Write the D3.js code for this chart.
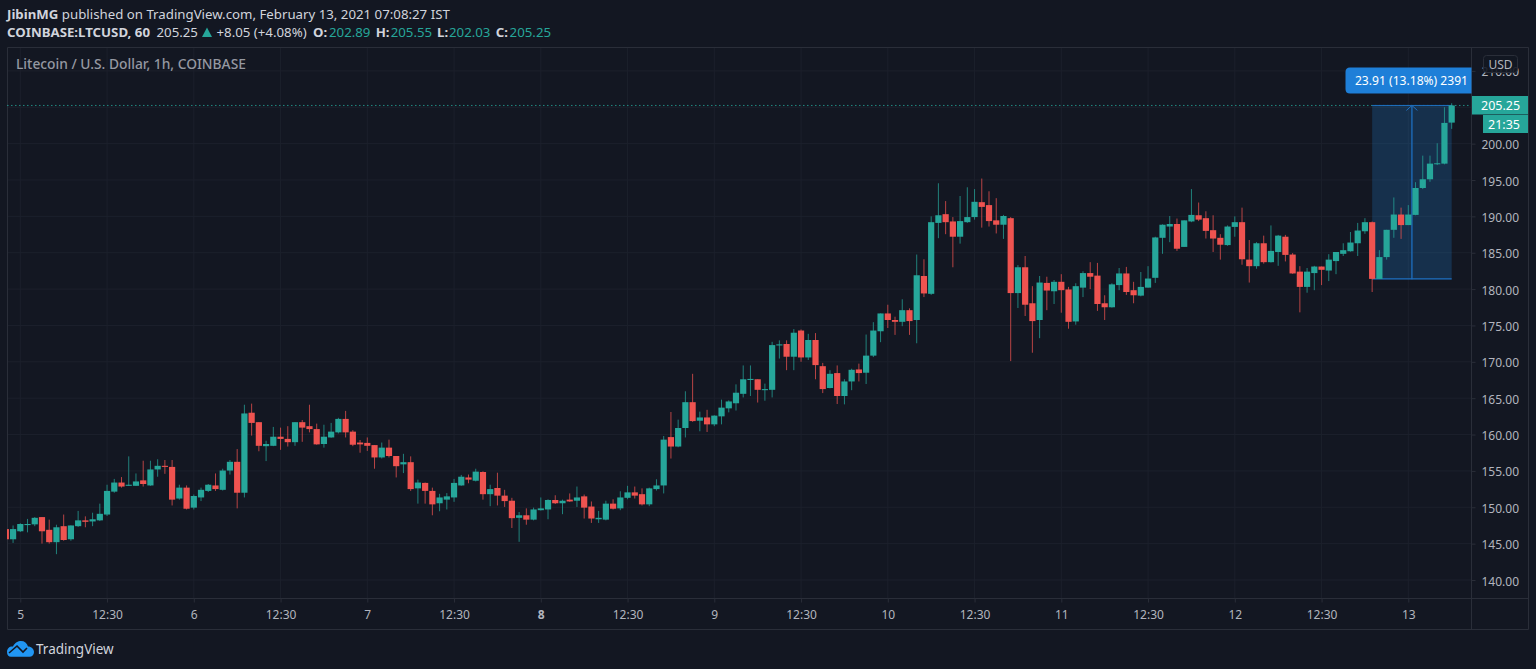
<!DOCTYPE html>
<html>
<head>
<meta charset="utf-8">
<title>LTCUSD</title>
<script src="https://cdn.jsdelivr.net/npm/d3@7"></script>
<style>
  html, body { margin: 0; background: #131722; overflow: hidden; }
  text { font-family: "Noto Sans", "Open Sans", sans-serif; }
</style>
</head>
<body>
<div id="chart"></div>
<script>
// hourly candles
const opens = [
  147.0,145.6,146.7,147.55,147.65,148.65,146.9,145.2,147.4,145.6,147.4,148.2,
  148.05,148.2,149,152.15,153.4,152.95,152.95,153.7,153,155.2,155.7,155.55,
  151.2,152.7,149.95,151.35,152.25,153,152.4,155.05,156.25,152,163,161.7,
  158.4,158.45,159.7,159.4,158.95,161.7,161.15,160.75,158.7,159.6,160.3,162.15,
  160.4,158.9,158.85,158.55,156.85,158.2,157.05,155.9,156.2,152.6,153.35,152.25,
  150.55,151.05,151.35,153,154.1,153.65,154.85,151.8,152.65,151.6,150.9,148.55,
  148.9,148.3,149.6,149.7,151,150.55,151.05,150.9,151.5,150.1,148.35,148.3,
  150.5,149.85,151.3,152.05,151.8,150.4,152.5,153,159.65,158.35,160.9,164.45,
  161.9,162.35,161.4,162.5,163.6,164.3,165.6,167.5,167.6,166.1,166.15,172.25,
  172.45,170.7,174.3,170.6,173,169.4,166.4,168.45,165.3,167.3,168.95,168.5,
  170.85,174.2,176.65,175.75,175.5,177.1,175.75,181.8,179.35,189.1,190.3,189.3,
  187.2,189.2,189.9,191.95,191.55,189.45,188.85,189.75,179.45,183,178.05,175.75,
  180.85,179.7,181,179.95,175.55,180.2,182.2,181.85,178.05,177.5,180.55,182.15,
  179.85,179.1,180.2,181.55,187.05,188.6,188.95,185.8,189.3,190.15,189.75,188.1,
  187.05,186.05,188.55,189.2,184.05,183.15,186.3,183.7,185.1,187.2,184.75,182.4,
  180.3,182.2,183.1,182.55,183.85,184.85,185.2,186.3,187.95,189.2,181.4,184.4,
  188.15,190.25,188.8,190.2,193.9,195.1,197.2,197.25,202.89
];
const highs = [
  147,147.5,147.8,148.4,148.65,148.65,148.3,147.6,149,147.5,149.5,148.75,
  149.25,150.5,153.1,153.9,154.15,157,154.65,156.4,156.4,156.6,156.5,156.5,
  153.1,153,151.75,152.7,153.2,154.65,155.3,156.5,158,164.1,164.25,161.7,
  159.15,161.05,160.95,161.15,161.7,162,164.1,161.5,161.35,161.6,162.3,163.25,
  160.6,159.25,159.6,158.55,158.9,159.3,157.05,157.35,157,153.8,153.4,152.7,
  151.85,151.95,153.9,154.45,154.5,155.3,154.95,153.1,154.75,152.4,151.3,149.35,
  149.85,149.95,151.35,151.1,151.65,151.05,151.9,152.85,151.75,150.8,149.5,150.9,
  151.1,152.2,152.95,152.85,152.6,152.7,153.85,159.8,163.1,162.05,165.95,168.35,
  163.15,163.4,162.65,164.8,164.7,166.9,169.5,169.5,167.6,167,172.75,172.95,
  172.95,174.5,174.45,173.85,173.95,169.85,168.85,169.5,167.6,169.05,169.75,173.75,
  175.45,176.65,177.85,176.2,178.6,177.35,184.75,184.1,190,194.55,192.1,189.9,
  192.8,194,193.75,195.2,193.45,192.5,190.2,189.9,183.3,184.55,180.4,181.8,
  181.7,181.25,182.05,180.3,180.8,182.45,183.7,183.6,179.15,180.8,182.9,183.05,
  181,182.35,183.15,187.2,188.9,190.05,189.7,189.45,193.75,191.9,190.7,190.15,
  187.55,188.75,190,191.2,186.75,186.45,187.35,188.75,187.45,187.45,184.95,183.15,
  182.9,183.2,183.1,184.8,185.1,186.3,187.85,189.1,189.75,189.3,185.35,188.15,
  192.6,191.2,191.55,194.7,198.35,198.35,200.05,205,205.55
];
const lows = [
  145.6,145.1,146.6,146.55,147.4,145,145,143.55,145.4,145.4,147.3,147.25,
  147.4,148.1,148.8,152,152.7,152.95,152.95,152.85,152.95,154.2,154.6,150.25,
  151.05,149.7,149.7,150.85,152.1,152.25,152.3,154.5,149.85,151.35,159.85,157.7,
  156.35,158.4,157.9,158.35,158.45,159,160.3,158.6,158.2,159.55,160.15,159.6,
  158.4,157.5,157.75,155.3,156.7,156.85,154.1,154.7,152.25,150.5,150.5,148.9,
  149.45,149.7,150.75,152.95,153.3,153.55,151.05,150.15,150.25,150.05,147.15,145.25,
  147.6,148.2,149.55,148.35,150.45,149.05,150.75,150.05,148.45,147.85,147.85,148.2,
  149.7,149.6,151.1,151.2,150.25,150.15,152.3,151.9,156.7,158.25,159.6,161.75,
  160.45,160.35,161.15,161.4,163.05,163.3,165.1,165.3,164.4,164.65,165.1,170.45,
  168.85,168.85,170,170.25,167.6,165.7,166.35,164.2,164.15,166.1,167.3,166.95,
  170.65,172.7,174.65,173.7,174.9,173.7,172.55,178.9,179.2,187,187.55,183,
  186.25,189.1,189.55,188.45,188.6,187.65,186.9,170.1,177.4,176.3,171.25,173.25,
  177.1,177.95,176.75,174.55,175.1,178.9,180,177,175.75,177.45,179.85,179.2,
  178.05,179,180.2,180.85,184.85,186.45,185.25,185.8,189.2,189.35,186.95,185.1,
  184.05,185.95,187.2,183.35,180.9,182.8,183.5,183.65,183.2,183.8,182.1,176.8,
  179.5,179.85,180.55,181.1,182.05,184.55,185.15,184.55,187.6,179.6,181.4,184.05,
  187.05,186.9,188.8,190.15,193.75,194.75,197.05,197.15,202.03
];
const closes = [
  145.6,147,147.7,147.7,148.55,146.7,145.2,147.25,145.5,147.5,148.2,148,
  148.35,149.1,152.25,153.4,152.85,153.1,153.55,153.2,155.2,155.7,155.55,151.05,
  152.7,149.8,151.55,152.4,153.1,152.5,155.05,156.25,152,162.9,161.6,158.45,
  158.7,159.7,159.4,158.95,161.7,160.95,160.75,158.65,159.7,160.4,162.15,160.3,
  158.6,158.65,158.45,156.85,158.2,157.05,155.65,156.2,152.5,153.4,152.25,150.4,
  151.35,151.5,153.35,154.2,153.8,154.9,151.8,152.5,151.6,150.85,148.5,148.9,
  148.3,149.7,149.85,151,150.55,150.9,150.8,151.35,149.95,148.45,148.55,150.5,
  149.8,151.35,152.05,151.6,150.4,152.6,153,159.3,158.35,160.9,164.45,161.85,
  162.35,161.4,162.6,163.7,164.55,165.75,167.6,167.65,166.15,166.25,172.3,172.4,
  170.7,174,170.6,173,169.55,166.25,168.35,165.3,167.3,168.9,168.45,170.85,
  174.3,176.65,175.75,175.5,177.1,175.6,181.9,179.4,189.2,190.15,189.2,187.2,
  189.35,189.9,192,191.3,189.35,188.85,190.05,179.45,183,177.85,175.6,180.9,
  179.8,181,179.85,175.5,180.4,182.2,181.7,177.95,177.5,180.65,182.15,179.6,
  179.15,180.3,181.45,187.1,188.85,188.95,185.55,189.45,190.2,189.55,188,186.95,
  186.1,188.6,189.2,184.1,183.15,186.3,183.7,185.25,187.35,184.7,182.15,180.3,
  182.4,183.1,182.65,184.05,185.1,185.35,186.4,188.05,189.2,181.4,184.4,188.15,
  190.25,188.8,190.25,193.9,195.1,197.25,197.3,202.85,205.25
];

const timeLabels = ["5","12:30","6","12:30","7","12:30","8","12:30","9","12:30","10","12:30","11","12:30","12","12:30","13"];
const timeBars = [2,14,26,38,50,62,74,86,98,110,122,134,146,158,170,182,194];
const priceTicks = [210,205,200,195,190,185,180,175,170,165,160,155,150,145,140];

const lastPrice = 205.25;
const rangeFrom = 181.34;   // bottom of the price range tool
const rangeStartBar = 189;
const rangeEndBar = 200;
const rangeMidBar = 194.5;

const teal = "#26a69a";
const red = "#ef5350";
const gridColor = "#1c202c";
const frameColor = "#2a2e39";
const axisText = "#b2b5be";
const toolBlue = "#1e6fc0";

const svgWidth = 1536;
const svgHeight = 669;

const plot = { left: 7, right: 1471, top: 47, bottom: 598, outerRight: 1528, outerBottom: 629 };

const x = d3.scaleLinear().domain([2, 194]).range([20.3, 1408.3]);
const y = d3.scaleLinear().domain([140, 210]).range([580, 70.9]);

const svg = d3.select("#chart")
  .append("svg")
  .attr("width", svgWidth)
  .attr("height", svgHeight)
  .style("display", "block");

svg.append("defs").append("clipPath").attr("id", "plotClip")
  .append("rect")
  .attr("x", plot.left)
  .attr("y", plot.top)
  .attr("width", plot.right - plot.left)
  .attr("height", plot.bottom - plot.top);

// header lines
const headerColor = "#d1d4dc";
const line1 = svg.append("text").attr("x", 7).attr("y", 18.5).attr("font-size", 13.25).attr("fill", headerColor);
line1.append("tspan").attr("font-weight", 700).text("JibinMG");
line1.append("tspan").text(" published on TradingView.com, February 13, 2021 07:08:27 IST");

const line2Parts = [
  { t: "COINBASE:LTCUSD, 60", x: 7, bold: true, c: headerColor },
  { t: "205.25", x: 156.5, c: headerColor },
  { t: "+8.05 (+4.08%)", x: 216.5, c: headerColor },
  { t: "O:", x: 313, bold: true, c: headerColor },
  { t: "202.89", x: 329, c: teal },
  { t: "H:", x: 375.7, bold: true, c: headerColor },
  { t: "205.55", x: 390.7, c: teal },
  { t: "L:", x: 437, bold: true, c: headerColor },
  { t: "202.03", x: 449, c: teal },
  { t: "C:", x: 495.7, bold: true, c: headerColor },
  { t: "205.25", x: 509.6, c: teal }
];
svg.selectAll(".line2").data(line2Parts).enter().append("text")
  .attr("class", "line2")
  .attr("x", d => d.x)
  .attr("y", 37)
  .attr("font-size", 13.25)
  .attr("font-weight", d => d.bold ? 700 : 400)
  .attr("fill", d => d.c)
  .text(d => d.t);
svg.append("path").attr("d", "M202 37 L207 27.5 L212 37 Z").attr("fill", teal);

// grid
const gridGroup = svg.append("g");
gridGroup.selectAll(".vgrid").data(timeBars).enter().append("line")
  .attr("x1", d => x(d)).attr("x2", d => x(d))
  .attr("y1", plot.top).attr("y2", plot.bottom)
  .attr("stroke", gridColor);
gridGroup.selectAll(".hgrid").data(priceTicks).enter().append("line")
  .attr("x1", plot.left).attr("x2", plot.right)
  .attr("y1", d => y(d)).attr("y2", d => y(d))
  .attr("stroke", gridColor);

// frame
svg.append("path")
  .attr("d", `M${plot.left + 0.5} ${plot.top + 0.5} H${plot.outerRight + 0.5} V${plot.outerBottom + 0.5} H${plot.left + 0.5} Z
    M${plot.left} ${plot.bottom + 0.5} H${plot.outerRight}
    M${plot.right + 0.5} ${plot.top} V${plot.outerBottom}`)
  .attr("fill", "none")
  .attr("stroke", frameColor);

svg.append("text")
  .attr("x", 16).attr("y", 69)
  .attr("font-size", 13.8)
  .attr("font-weight", 500)
  .attr("fill", "#9598a1")
  .text("Litecoin / U.S. Dollar, 1h, COINBASE");

// axes, the 205 label sits behind the last price tag so it is left out
const yAxis = svg.append("g")
  .attr("transform", `translate(${plot.right + 0.5},0)`)
  .call(d3.axisRight(y).tickValues(priceTicks).tickSize(4).tickPadding(6)
    .tickFormat(d => d === 205 ? "" : d3.format(".2f")(d)));
const xAxis = svg.append("g")
  .attr("transform", `translate(0,${plot.bottom + 0.5})`)
  .call(d3.axisBottom(x).tickValues(timeBars).tickSize(4).tickPadding(8).tickFormat((d, i) => timeLabels[i]));
[yAxis, xAxis].forEach(a => {
  a.select(".domain").remove();
  a.selectAll("line").attr("stroke", frameColor);
  a.selectAll("text").attr("fill", axisText).attr("font-size", 12).style("font-family", '"Noto Sans", sans-serif');
});
yAxis.selectAll("text").attr("dy", "0.42em");
xAxis.selectAll("text").filter((d, i) => timeLabels[i] === "8").attr("font-weight", 700);

const plotGroup = svg.append("g").attr("clip-path", "url(#plotClip)");

// last price dotted line
plotGroup.append("line")
  .attr("x1", plot.left).attr("x2", plot.right)
  .attr("y1", y(lastPrice)).attr("y2", y(lastPrice))
  .attr("stroke", teal)
  .attr("stroke-opacity", 0.8)
  .attr("stroke-dasharray", "1.5 2.5");

// price range tool, goes under the candles
plotGroup.append("rect")
  .attr("x", x(rangeStartBar))
  .attr("y", y(lastPrice))
  .attr("width", x(rangeEndBar) - x(rangeStartBar))
  .attr("height", y(rangeFrom) - y(lastPrice))
  .attr("fill", "#2196f3")
  .attr("fill-opacity", 0.2);
plotGroup.append("line")
  .attr("x1", x(rangeStartBar)).attr("x2", x(rangeEndBar))
  .attr("y1", y(lastPrice)).attr("y2", y(lastPrice))
  .attr("stroke", toolBlue);
plotGroup.append("line")
  .attr("x1", x(rangeStartBar)).attr("x2", x(rangeEndBar))
  .attr("y1", y(rangeFrom) - 0.5).attr("y2", y(rangeFrom) - 0.5)
  .attr("stroke", toolBlue)
  .attr("stroke-width", 1.3);
plotGroup.append("line")
  .attr("x1", x(rangeMidBar)).attr("x2", x(rangeMidBar))
  .attr("y1", y(rangeFrom)).attr("y2", y(lastPrice))
  .attr("stroke", toolBlue)
  .attr("stroke-width", 1.3);
plotGroup.append("path")
  .attr("d", `M${x(rangeMidBar) - 5.5} ${y(lastPrice) + 5} L${x(rangeMidBar)} ${y(lastPrice)} L${x(rangeMidBar) + 5.5} ${y(lastPrice) + 5}`)
  .attr("fill", "none")
  .attr("stroke", toolBlue);

// candles
const candles = closes.map((c, i) => ({ i, o: opens[i], h: highs[i], l: lows[i], c }));
const candleGroup = plotGroup.selectAll(".candle").data(candles).enter().append("g");
candleGroup.append("line")
  .attr("x1", d => x(d.i)).attr("x2", d => x(d.i))
  .attr("y1", d => y(d.h)).attr("y2", d => y(d.l))
  .attr("stroke", d => d.c >= d.o ? teal : red)
  .attr("stroke-opacity", 0.75);
candleGroup.append("rect")
  .attr("x", d => x(d.i) - 3.1)
  .attr("width", 6.2)
  .attr("y", d => y(Math.max(d.o, d.c)))
  .attr("height", d => Math.max(1, Math.abs(y(d.o) - y(d.c))))
  .attr("fill", d => d.c >= d.o ? teal : red);

// range tool label
svg.append("path")
  .attr("d", "M1350 67.5 H1471.5 V93.5 H1350 Q1345.5 93.5 1345.5 89 V72 Q1345.5 67.5 1350 67.5 Z")
  .attr("fill", "#1e7fd8");
svg.append("text")
  .attr("x", 1411.5).attr("y", 85)
  .attr("text-anchor", "middle")
  .attr("font-size", 12.1)
  .attr("fill", "#ffffff")
  .text("23.91 (13.18%) 2391");

// USD button
svg.append("rect")
  .attr("x", 1483.5).attr("y", 55.5)
  .attr("width", 34).attr("height", 17).attr("rx", 3)
  .attr("fill", "#131722").attr("fill-opacity", 0.9)
  .attr("stroke", frameColor);
svg.append("text")
  .attr("x", 1500.5).attr("y", 68.5)
  .attr("text-anchor", "middle")
  .attr("font-size", 12)
  .attr("fill", axisText)
  .text("USD");

// last price tags
svg.append("rect").attr("x", 1472).attr("y", 96).attr("width", 56).attr("height", 18.5).attr("fill", teal);
svg.append("rect").attr("x", 1483).attr("y", 115).attr("width", 45).attr("height", 18).attr("fill", teal);
svg.append("text").attr("x", 1481).attr("y", 109.5).attr("font-size", 12.5).attr("fill", "#ffffff").text("205.25");
svg.append("text").attr("x", 1488).attr("y", 128.5).attr("font-size", 12.5).attr("fill", "#ffffff").text("21:35");

// TradingView logo
svg.append("path")
  .attr("d", "M7 652 C7 648 10 646 13 646.5 C15 642.5 18 641 21 641 C24.5 641 27 643 28 646.5 C31.5 646.5 34 649 34 652 C34 655 32 656.7 29.5 656.7 H11 C8.5 656.7 7 655 7 652 Z")
  .attr("fill", "#2196f3");
svg.append("path")
  .attr("d", "M9 653 L17 646 L23 652 L27 648")
  .attr("fill", "none")
  .attr("stroke", "#131722")
  .attr("stroke-width", 1.6);
svg.append("text")
  .attr("x", 36).attr("y", 654)
  .attr("font-size", 13.5)
  .attr("fill", "#d1d4dc")
  .text("TradingView");
</script>
</body>
</html>
